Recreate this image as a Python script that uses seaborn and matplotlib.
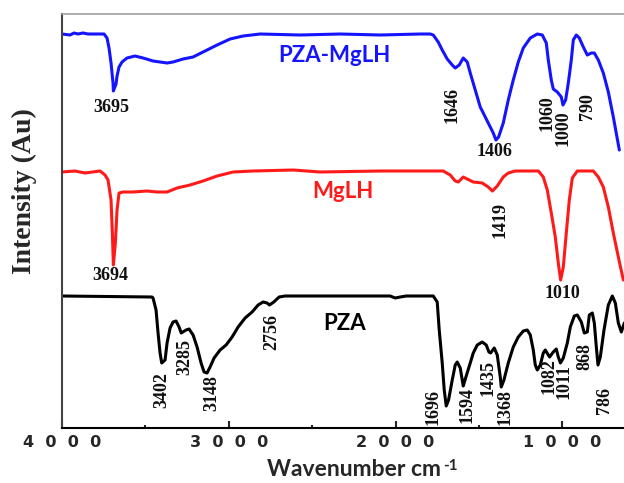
import numpy as np
import pandas as pd
import matplotlib
matplotlib.use('Agg')
import matplotlib.pyplot as plt
from matplotlib.ticker import FixedLocator
import seaborn as sns

# spectra: wavenumber (cm-1) and relative intensity (arb. units, stacked)
pza_mglh_wn = [4000, 3952, 3928, 3904, 3874, 3844, 3748, 3730, 3718, 3706, 3694, 3692, 3676,
               3670, 3658, 3640, 3610, 3562, 3514, 3454, 3370, 3334, 3274, 3214, 3154, 3070,
               2992, 2914, 2812, 2572, 2332, 2092, 1852, 1792, 1774, 1744, 1720, 1690, 1660,
               1642, 1618, 1594, 1570, 1552, 1522, 1492, 1462, 1432, 1414, 1398, 1382, 1354,
               1324, 1294, 1264, 1234, 1192, 1150, 1120, 1096, 1084, 1066, 1054, 1030, 1006,
               996, 980, 964, 946, 934, 916, 898, 874, 850, 826, 808, 784, 754, 724, 694, 658]
pza_mglh_int = [394, 393, 395, 394, 395, 394, 394, 390, 380, 365, 345, 337, 344,
                352, 361, 366, 370, 372, 370, 367, 365, 366, 369, 371, 376, 383,
                389, 392, 394, 393, 394, 393, 394, 394, 393, 386, 378, 369, 363,
                360, 363, 370, 366, 355, 338, 321, 311, 301, 295, 288, 291, 305,
                328, 348, 366, 380, 390, 394, 393, 385, 368, 348, 339, 336, 331,
                323, 328, 345, 368, 388, 393, 390, 381, 373, 375, 375, 368, 355, 336, 311, 278]

mglh_wn = [4000, 3922, 3862, 3772, 3742, 3724, 3706, 3698, 3692, 3680, 3670, 3658, 3634,
           3574, 3490, 3430, 3370, 3310, 3232, 3154, 3070, 2974, 2854, 2614, 2452, 2092,
           1714, 1672, 1642, 1624, 1594, 1570, 1534, 1480, 1444, 1419, 1390, 1354, 1324,
           1282, 1144, 1114, 1090, 1066, 1042, 1024, 1010, 994, 976, 958, 940, 910, 814,
           784, 754, 724, 694, 664, 634]
mglh_int = [256, 257, 255, 257, 253, 248, 228, 195, 163, 185, 218, 235, 236,
            236, 237, 236, 236, 240, 243, 247, 252, 256, 257, 258, 256, 257,
            257, 253, 247, 246, 251, 249, 246, 245, 241, 237, 242, 251, 255,
            257, 257, 251, 238, 215, 191, 165, 148, 161, 195, 228, 250, 257, 257,
            251, 241, 221, 195, 171, 148]

pza_wn = [4000, 3460, 3454, 3436, 3424, 3412, 3402, 3382, 3370, 3352, 3334, 3316, 3298,
          3285, 3256, 3238, 3214, 3190, 3166, 3148, 3130, 3112, 3088, 3052, 3016, 2980,
          2944, 2902, 2860, 2824, 2794, 2770, 2756, 2730, 2698, 2662, 2032, 2002, 1972,
          1936, 1774, 1750, 1738, 1720, 1708, 1696, 1682, 1660, 1642, 1630, 1612, 1600,
          1594, 1578, 1552, 1534, 1510, 1480, 1456, 1440, 1430, 1408, 1390, 1372, 1366,
          1350, 1324, 1294, 1264, 1234, 1210, 1192, 1174, 1162, 1150, 1132, 1114, 1102,
          1084, 1076, 1054, 1036, 1024, 1011, 994, 970, 952, 928, 910, 886, 868, 850, 838,
          820, 808, 796, 786, 772, 750, 724, 700, 682, 664, 646, 628]
pza_int = [132, 131, 130, 118, 95, 75, 65, 68, 85, 100, 106, 107, 101,
           95, 98, 99, 93, 81, 65, 56, 55, 61, 70, 78, 83, 91,
           101, 110, 116, 123, 126, 125, 123, 126, 131, 132, 132, 130, 131,
           132, 132, 126, 98, 65, 38, 22, 28, 48, 63, 66, 60, 48,
           42, 51, 65, 75, 83, 86, 83, 76, 75, 80, 73, 51, 41,
           48, 65, 81, 91, 97, 98, 93, 78, 63, 58, 63, 75, 78,
           73, 71, 76, 79, 71, 65, 70, 85, 101, 112, 113, 106, 95, 96, 113,
           115, 105, 81, 63, 71, 98, 123, 132, 125, 105, 96, 105]

series_names = ['PZA-MgLH', 'MgLH', 'PZA']
series_colors = ['#1414ff', '#ff1a1a', '#000000']

# peak labels: text, x, y, rotation
peak_labels = [
    ('3695', 3706, 321, 0), ('1646', 1660, 323, 90), ('1406', 1408, 277, 0),
    ('1060', 1090, 315, 90), ('1000', 994, 300, 90), ('790', 850, 321, 90),
    ('3694', 3712, 152, 0), ('1419', 1372, 208, 90), ('1010', 1000, 135, 0),
    ('3402', 3400, 38, 90), ('3285', 3262, 71, 90), ('3148', 3100, 35, 90),
    ('2756', 2740, 96, 90), ('1696', 1774, 21, 90), ('1594', 1570, 23, 90),
    ('1435', 1444, 50, 90), ('1368', 1342, 21, 90), ('1082', 1080, 52, 90),
    ('1011', 987, 46, 90), ('868', 862, 72, 90), ('786', 748, 28, 90),
]
name_pos = [(2368, 373), (2314, 236), (2308, 105)]

df = pd.concat([
    pd.DataFrame({'wn': pza_mglh_wn, 'I': pza_mglh_int, 'sample': 'PZA-MgLH'}),
    pd.DataFrame({'wn': mglh_wn, 'I': mglh_int, 'sample': 'MgLH'}),
    pd.DataFrame({'wn': pza_wn, 'I': pza_int, 'sample': 'PZA'}),
])

sns.set_style('white')
fig = plt.figure(figsize=(6.24, 4.83), dpi=100)
ax = fig.add_axes([62/624, 55/483, 562/624, 414/483])

sns.lineplot(data=df, x='wn', y='I', hue='sample', palette=dict(zip(series_names, series_colors)),
             sort=False, estimator=None, linewidth=2.2, legend=False, ax=ax)
for line in ax.lines:
    line.set_solid_joinstyle('round')
    line.set_solid_capstyle('round')

ax.set_xlim(4000, 630)
ax.set_ylim(0, 414)

num_font = dict(family='Liberation Serif', weight='bold', fontsize=13)
for txt, x, y, rot in peak_labels:
    ax.text(x, y, txt, rotation=rot, ha='center', va='center', color='#111111', **num_font)

for name, col, (x, y) in zip(series_names, series_colors, name_pos):
    ax.text(x, y, name, color=col, ha='center', va='center', family='Lato',
            weight='bold', fontsize=16)

ax.set_yticks([])
ax.xaxis.set_major_locator(FixedLocator([4000, 3000, 2000, 1000]))
ax.xaxis.set_minor_locator(FixedLocator([3500, 2500, 1500]))
ax.set_xticklabels(['4  0  0  0', '3  0  0  0', '2  0  0  0', '1  0  0  0'],
                   family='DejaVu Sans', weight='bold', fontsize=11.5)
ax.tick_params(axis='x', which='major', direction='in', length=5, width=1.5, pad=5, bottom=True)
ax.tick_params(axis='x', which='minor', direction='in', length=2.5, width=1.5, bottom=True)

ax.set_xlabel('Wavenumber cm', family='Lato', weight='bold', fontsize=16.5)
ax.xaxis.set_label_coords(0.52, -0.075)
# superscript -1 with a plain hyphen, as in the original
ax.annotate('-1', xy=(1, 1), xycoords=ax.xaxis.label, xytext=(1, 0), textcoords='offset points',
            ha='left', va='top', family='Lato', weight='bold', fontsize=11)
ax.set_ylabel('Intensity (Au)', family='Liberation Serif', weight='bold', fontsize=20)
ax.yaxis.set_label_coords(-0.045, 0.572)

ax.spines['top'].set_color('#a0a0a0')
ax.spines['top'].set_linewidth(1.2)
ax.spines['left'].set_color('#444444')
ax.spines['left'].set_linewidth(1.5)
ax.spines['bottom'].set_color('#000000')
ax.spines['bottom'].set_linewidth(1.5)
ax.spines['right'].set_visible(False)

fig.savefig('out.png', dpi=100)
